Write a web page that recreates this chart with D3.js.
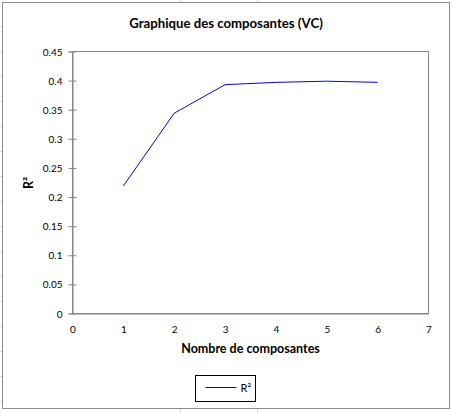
<!DOCTYPE html>
<html>
<head>
<meta charset="utf-8">
<script src="https://cdn.jsdelivr.net/npm/d3@7"></script>
<style>
  body { margin: 0; background: #fff; }
  text { font-family: Lato, "Open Sans", sans-serif; fill: #000; }
  .tick_lbl { font-size: 10px; }
  .ttl { font-size: 12.5px; font-weight: bold; }
  .main_ttl { font-size: 13.2px; font-weight: bold; }
</style>
</head>
<body>
<div id="chart"></div>
<script>
// number of components vs R² (cross-validation)
var components = [1, 2, 3, 4, 5, 6];
var r2Values = [0.219, 0.344, 0.393, 0.397, 0.399, 0.397];
var xTicks = [0, 1, 2, 3, 4, 5, 6, 7];
var yTicks = [0, 0.05, 0.1, 0.15, 0.2, 0.25, 0.3, 0.35, 0.4, 0.45];
var seriesName = "R²";

var width = 452, height = 413;
var plot = {left: 72.5, right: 428.5, top: 51.5, bottom: 313.5};

var svg = d3.select("#chart").append("svg")
    .attr("width", width)
    .attr("height", height);

// faint spreadsheet grid showing around the chart object
var sheetRows = [26, 51, 76, 101, 126, 151, 176, 201, 226, 251, 276, 301, 326, 351, 376, 401];
svg.selectAll(".sheet_row").data(sheetRows).enter().append("line")
    .attr("x1", 0).attr("x2", 2)
    .attr("y1", function(d) { return d + 0.5; }).attr("y2", function(d) { return d + 0.5; })
    .attr("stroke", "#d9d9d9");
[180, 257].forEach(function(x) {
    svg.append("line").attr("x1", x + 0.5).attr("x2", x + 0.5).attr("y1", 0).attr("y2", 3).attr("stroke", "#d9d9d9");
    svg.append("line").attr("x1", x + 0.5).attr("x2", x + 0.5).attr("y1", 409).attr("y2", 413).attr("stroke", "#d9d9d9");
});

// chart object border
svg.append("rect")
    .attr("x", 2.5).attr("y", 2.5)
    .attr("width", 447).attr("height", 406)
    .attr("fill", "#fff")
    .attr("stroke", "#8c8c8c");

var x = d3.scaleLinear().domain([0, 7]).range([plot.left, plot.right]);
var y = d3.scaleLinear().domain([0, 0.45]).range([plot.bottom, plot.top]);

// plot area frame
svg.append("rect")
    .attr("x", plot.left).attr("y", plot.top)
    .attr("width", plot.right - plot.left).attr("height", plot.bottom - plot.top)
    .attr("fill", "none")
    .attr("stroke", "#868686");

// y axis with crossing ticks
var yAxis = svg.append("g")
    .attr("transform", "translate(" + plot.left + ",0)")
    .call(d3.axisLeft(y).tickValues(yTicks).tickSize(4).tickFormat(function(d) { return String(+d.toFixed(2)); }));
yAxis.select(".domain").attr("stroke", "#868686");
yAxis.selectAll(".tick line").attr("x2", -4).attr("x1", 4).attr("stroke", "#868686");
yAxis.selectAll(".tick text").attr("class", "tick_lbl").attr("x", -10).attr("dy", "0.35em");

// x axis, labels only
var xAxis = svg.append("g")
    .attr("transform", "translate(0," + plot.bottom + ")")
    .call(d3.axisBottom(x).tickValues(xTicks).tickSize(0).tickFormat(d3.format("d")));
xAxis.select(".domain").attr("stroke", "#868686");
xAxis.selectAll(".tick text").attr("class", "tick_lbl").attr("y", 12).attr("dy", "0.71em");

// series line
var line = d3.line()
    .x(function(d, i) { return x(components[i]); })
    .y(function(d) { return y(d); });

svg.append("path")
    .datum(r2Values)
    .attr("d", line)
    .attr("fill", "none")
    .attr("stroke", "#0000ff")
    .attr("stroke-width", 1);

// titles
svg.append("text")
    .attr("class", "main_ttl")
    .attr("x", 226).attr("y", 28)
    .attr("text-anchor", "middle")
    .text("Graphique des composantes (VC)");

svg.append("text")
    .attr("class", "ttl")
    .attr("x", 250.5).attr("y", 353)
    .attr("text-anchor", "middle")
    .text("Nombre de composantes");

svg.append("text")
    .attr("class", "ttl")
    .attr("transform", "translate(33,183) rotate(-90)")
    .attr("text-anchor", "middle")
    .text("R²");

// legend
var legend = svg.append("g").attr("transform", "translate(195.5,375.5)");
legend.append("rect")
    .attr("width", 60).attr("height", 26)
    .attr("fill", "#fff").attr("stroke", "#000");
legend.append("line")
    .attr("x1", 10).attr("x2", 41).attr("y1", 12).attr("y2", 12)
    .attr("stroke", "#1010b0");
legend.append("text")
    .attr("class", "tick_lbl")
    .style("font-size", "11px")
    .attr("x", 45).attr("y", 16)
    .text(seriesName);
</script>
</body>
</html>
